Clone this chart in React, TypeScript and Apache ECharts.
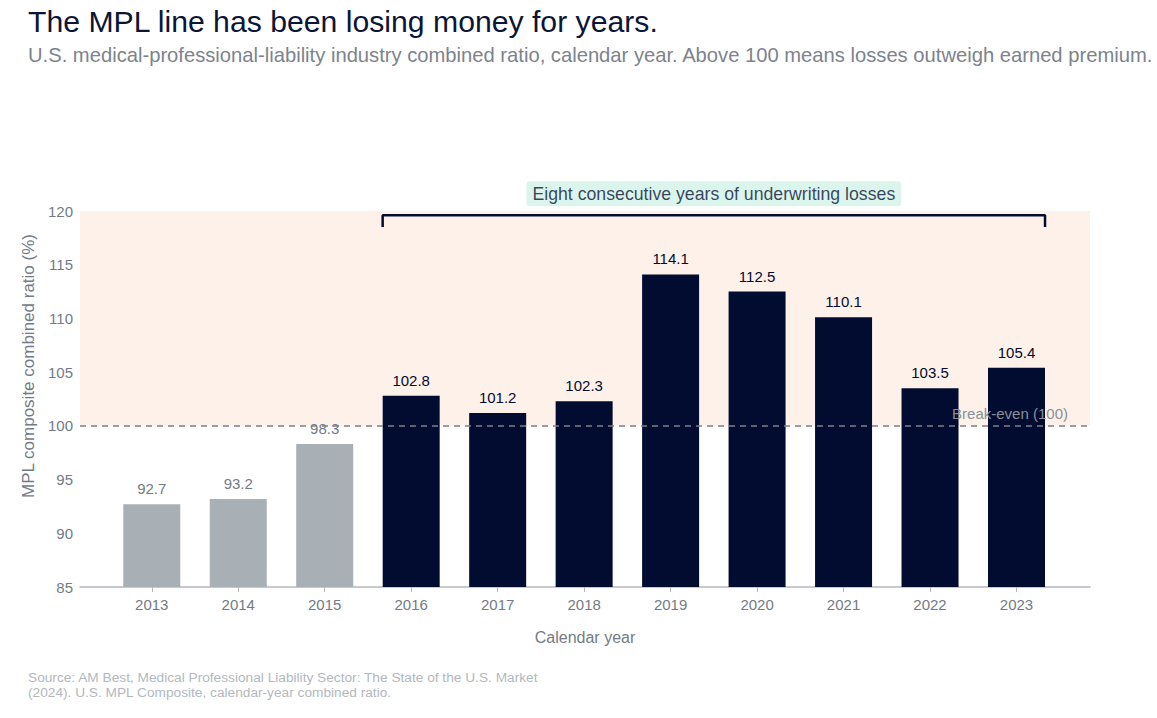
import React, { useEffect, useRef } from "react";
import * as echarts from "echarts";

const years = [2013, 2014, 2015, 2016, 2017, 2018, 2019, 2020, 2021, 2022, 2023];
const ratios = [92.7, 93.2, 98.3, 102.8, 101.2, 102.3, 114.1, 112.5, 110.1, 103.5, 105.4];
const profitableYears = [2013, 2014, 2015];
const breakEven = 100;
const lossStreakStart = 2016;
const lossStreakEnd = 2023;
const yTicks = { min: 85, max: 120, interval: 5 };

const NAVY = "#020c30";
const GRAY_BAR = "#a8afb5";
const TEXT_GRAY = "#737b86";
const FONT = "'Liberation Sans', Arial, Helvetica, sans-serif";

export default function App() {
  const ref = useRef<HTMLDivElement>(null);
  useEffect(() => {
    if (!ref.current) return;
    const chart = echarts.init(ref.current, undefined, { renderer: "svg" });
    const halfBar = 0.33;
    const bracketY = 119.6;
    const bracketTickY = 118.5;
    const x0 = lossStreakStart - halfBar;
    const x1 = lossStreakEnd + halfBar;

    chart.setOption({
      animation: false,
      textStyle: { fontFamily: FONT },
      title: [
        {
          text: "The MPL line has been losing money for years.",
          left: 23,
          top: 1,
          textStyle: { fontSize: 30.2, fontWeight: "normal", color: "#0b1536", fontFamily: FONT },
        },
        {
          text: "U.S. medical-professional-liability industry combined ratio, calendar year. Above 100 means losses outweigh earned premium.",
          left: 23,
          top: 40,
          textStyle: { fontSize: 20.2, fontWeight: "normal", color: "#7d838c", fontFamily: FONT },
        },
        {
          text: "Source: AM Best, Medical Professional Liability Sector: The State of the U.S. Market\n(2024). U.S. MPL Composite, calendar-year combined ratio.",
          left: 23,
          top: 665,
          textStyle: { fontSize: 13.7, fontWeight: "normal", color: "#b3b8be", lineHeight: 15, fontFamily: FONT },
        },
      ],
      grid: { left: 80, right: 67, top: 211, bottom: 131 },
      xAxis: {
        type: "value",
        min: 2012.17,
        max: 2023.85,
        name: "Calendar year",
        nameLocation: "middle",
        nameGap: 42,
        nameTextStyle: { fontSize: 16, color: TEXT_GRAY },
        splitLine: { show: false },
        axisLine: { show: true, lineStyle: { color: "#b3b8be", width: 1.5 } },
        axisTick: { show: true, customValues: years, length: 5, lineStyle: { color: "#b3b8be" } },
        axisLabel: {
          customValues: years,
          formatter: (v: number) => String(v),
          fontSize: 15,
          color: TEXT_GRAY,
          margin: 10,
        },
      },
      yAxis: {
        type: "value",
        min: yTicks.min,
        max: yTicks.max,
        interval: yTicks.interval,
        name: "MPL composite combined ratio (%)",
        nameLocation: "middle",
        nameGap: 36,
        nameTextStyle: { fontSize: 17, color: TEXT_GRAY, padding: [0, 0, 0, 66] },
        splitLine: { show: false },
        axisLine: { show: false },
        axisTick: { show: false },
        axisLabel: { fontSize: 15, color: TEXT_GRAY, margin: 7 },
      },
      series: [
        {
          type: "line",
          z: 1,
          data: [],
          silent: true,
          markArea: {
            silent: true,
            itemStyle: { color: "#fdf1ea" },
            data: [[{ yAxis: breakEven }, { yAxis: yTicks.max }]],
          },
          markLine: {
            silent: true,
            symbol: "none",
            lineStyle: { color: "#7b7f86", type: [6, 5], width: 1.5 },
            label: {
              show: true,
              position: "insideEndTop",
              formatter: "Break-even (100)",
              color: "#8a9099",
              fontSize: 15,
              distance: [22, 5],
            },
            data: [{ yAxis: breakEven }],
          },
        },
        {
          type: "bar",
          z: 3,
          barWidth: 57,
          data: years.map((y, i) => {
            const profitable = profitableYears.includes(y);
            return {
              value: [y, ratios[i]],
              itemStyle: { color: profitable ? GRAY_BAR : NAVY },
              label: { color: profitable ? TEXT_GRAY : NAVY },
            };
          }),
          label: {
            show: true,
            position: "top",
            distance: 8,
            fontSize: 15,
            formatter: (p: any) => p.value[1].toFixed(1),
          },
        },
        {
          type: "line",
          z: 4,
          symbol: "none",
          silent: true,
          lineStyle: { color: NAVY, width: 2.5 },
          data: [
            [x0, bracketTickY],
            [x0, bracketY],
            [x1, bracketY],
            [x1, bracketTickY],
          ],
        },
        {
          type: "scatter",
          z: 5,
          symbolSize: 0,
          silent: true,
          data: [[(lossStreakStart + lossStreakEnd) / 2, bracketY]],
          label: {
            show: true,
            position: "top",
            distance: 9,
            formatter: "Eight consecutive years of underwriting losses",
            color: "#0b1536",
            fontSize: 17.7,
            backgroundColor: "#d2f1e7",
            borderRadius: 4,
            padding: [4, 6, 3, 6],
          },
        },
      ],
    });
    return () => chart.dispose();
  }, []);
  return (
    <div
      ref={ref}
      style={{ position: "fixed", left: 0, top: 0, width: 1157, height: 718, background: "#fff" }}
    />
  );
}
